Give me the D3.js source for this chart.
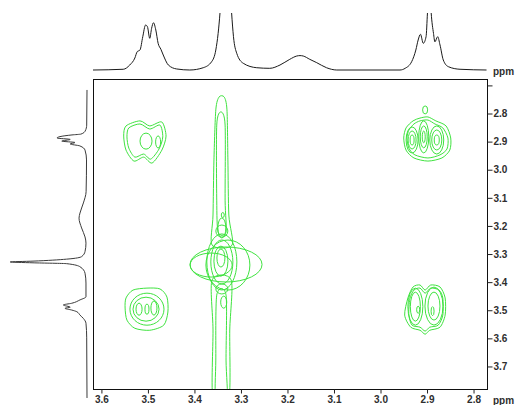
<!DOCTYPE html>
<html lang="en">
  <head>
    <meta charset="utf-8">
    <title>COSY spectrum</title>
    <script src="https://d3js.org/d3.v7.min.js"></script>
    <style>
      html, body {
        margin: 0px;
        padding: 0px;
        background: #fff;
      }
      svg {
        display: block;
        font-family: "Liberation Sans", Arial, sans-serif;
      }
      .axis text {
        font-size: 10px;
        font-weight: bold;
        fill: #2e2e2e;
      }
      .axis line {
        stroke: #222;
      }
      .contour {
        fill: none;
        stroke: #3fe33f;
        stroke-width: 1;
      }
      .trace {
        fill: none;
        stroke-width: 1;
      }
    </style>
  </head>
  <body>
    <div id="chart"></div>
    <script>
      // ticks (ppm)
      var xMajor = [3.6, 3.5, 3.4, 3.3, 3.2, 3.1, 3.0, 2.9, 2.8];
      var yMajor = [2.7, 2.8, 2.9, 3.0, 3.1, 3.2, 3.3, 3.4, 3.5, 3.6, 3.7];
      var yLabelled = [2.8, 2.9, 3.0, 3.1, 3.2, 3.3, 3.4, 3.5, 3.6, 3.7];

      // 1D projection on top: [ppm, intensity]
      var topTrace = [
        [3.617, 0], [3.552, 1.2], [3.538, 8.3], [3.527, 20], [3.522, 30.5], [3.516, 33.3],
        [3.510, 55.5], [3.504, 75], [3.500, 72.2], [3.495, 52.8], [3.491, 69.5], [3.487, 78.8],
        [3.482, 66.7], [3.477, 44.5], [3.471, 34.5], [3.466, 25], [3.455, 8.3], [3.437, 1.7],
        [3.409, 0], [3.380, 3.8], [3.362, 13.8], [3.353, 33.3], [3.348, 61], [3.344, 95],
        [3.331, 300], [3.319, 95], [3.315, 55.5], [3.308, 27.8], [3.294, 11.2], [3.265, 3.8],
        [3.237, 2.8], [3.215, 8.3], [3.194, 17.8], [3.179, 23.3], [3.172, 24], [3.165, 23.3],
        [3.151, 17.8], [3.136, 12.2], [3.115, 3.8], [3.093, 0], [2.957, 0], [2.946, 2.8],
        [2.932, 13.8], [2.923, 33.3], [2.918, 50], [2.913, 59.5], [2.907, 44.5], [2.901, 55.5],
        [2.898, 95], [2.894, 150], [2.890, 95], [2.885, 61], [2.882, 47], [2.876, 55.5],
        [2.871, 41.7], [2.864, 16.7], [2.853, 5.5], [2.828, 1.2], [2.771, 0]
      ];

      // 1D projection on the left: [ppm, intensity]
      var leftTrace = [
        [2.718, 0], [2.843, 0.5], [2.864, 3], [2.875, 10], [2.878, 25], [2.884, 45],
        [2.889, 50], [2.894, 28], [2.900, 42], [2.905, 20], [2.910, 28], [2.917, 12],
        [2.932, 3.3], [2.967, 0.8], [3.080, 1.5], [3.120, 6], [3.156, 11.7], [3.174, 13.3],
        [3.209, 9], [3.241, 3.3], [3.263, 1.7], [3.293, 3.3], [3.311, 9], [3.320, 34],
        [3.327, 90], [3.330, 128], [3.333, 90], [3.336, 34], [3.347, 11.7], [3.370, 3.3],
        [3.405, 1.7], [3.454, 1.7], [3.465, 11.7], [3.477, 25.5], [3.483, 39.5], [3.491, 28],
        [3.495, 36.7], [3.501, 25.5], [3.507, 17], [3.519, 11.7], [3.531, 6], [3.548, 1.7],
        [3.600, 0.5], [3.814, 0]
      ];

      // contour levels drawn as ellipses: [f2 ppm, f1 ppm, half width f2, half width f1]
      var ellipses = [
        // 3.50 / 2.90
        [3.503, 2.900, 0.0129, 0.0285], [3.477, 2.903, 0.0054, 0.0214],
        // 2.90 / 2.90
        [2.903, 2.789, 0.0054, 0.0142],
        [2.931, 2.896, 0.0129, 0.0463], [2.931, 2.896, 0.0086, 0.032], [2.931, 2.896, 0.0043, 0.0178],
        [2.906, 2.885, 0.0108, 0.057], [2.906, 2.885, 0.0075, 0.039], [2.906, 2.885, 0.0032, 0.021],
        [2.878, 2.896, 0.015, 0.05], [2.878, 2.896, 0.0108, 0.0356], [2.878, 2.896, 0.0054, 0.0178],
        // 3.50 / 3.50
        [3.501, 3.498, 0.0366, 0.057], [3.503, 3.498, 0.028, 0.0427],
        [3.518, 3.498, 0.0065, 0.0214], [3.486, 3.494, 0.0065, 0.025], [3.501, 3.498, 0.0043, 0.0178],
        // 2.90 / 3.50
        [2.924, 3.489, 0.0161, 0.0658], [2.924, 3.489, 0.0108, 0.0516], [2.918, 3.500, 0.0032, 0.0125],
        [2.884, 3.487, 0.0194, 0.0676], [2.884, 3.487, 0.0129, 0.0498], [2.887, 3.505, 0.0032, 0.016],
        // 3.33 diagonal peak
        [3.331, 3.339, 0.0774, 0.0623], [3.363, 3.341, 0.0452, 0.0427], [3.327, 3.341, 0.0473, 0.089],
        [3.340, 3.330, 0.0323, 0.0997], [3.340, 3.330, 0.0237, 0.0783], [3.342, 3.327, 0.0151, 0.0534],
        [3.342, 3.316, 0.0086, 0.032], [3.340, 3.220, 0.0129, 0.0214], [3.340, 3.209, 0.0086, 0.0356],
        [3.338, 3.163, 0.0032, 0.0089], [3.340, 3.426, 0.0129, 0.0178], [3.336, 3.473, 0.0065, 0.0214]
      ];

      // irregular outer contours: lists of [f2 ppm, f1 ppm]
      var outlines = [
        [[3.546, 2.846], [3.516, 2.828], [3.495, 2.846], [3.469, 2.832], [3.460, 2.882], [3.469, 2.932],
         [3.490, 2.978], [3.508, 2.957], [3.529, 2.971], [3.546, 2.932], [3.551, 2.882]],
        [[3.540, 2.853], [3.516, 2.839], [3.495, 2.857], [3.473, 2.843], [3.467, 2.885], [3.475, 2.928],
         [3.493, 2.964], [3.508, 2.946], [3.527, 2.957], [3.540, 2.925], [3.544, 2.885]],
        [[2.944, 2.853], [2.929, 2.828], [2.914, 2.818], [2.897, 2.814], [2.880, 2.828], [2.858, 2.846],
         [2.848, 2.889], [2.850, 2.932], [2.867, 2.960], [2.897, 2.971], [2.927, 2.960], [2.944, 2.932],
         [2.949, 2.889]],
        [[2.938, 2.861], [2.927, 2.839], [2.914, 2.828], [2.897, 2.825], [2.882, 2.839], [2.865, 2.853],
         [2.854, 2.889], [2.856, 2.928], [2.871, 2.949], [2.897, 2.960], [2.925, 2.949], [2.938, 2.925],
         [2.942, 2.889]],
        [[3.546, 3.458], [3.531, 3.430], [3.501, 3.423], [3.473, 3.426], [3.458, 3.455], [3.456, 3.508],
         [3.465, 3.555], [3.495, 3.573], [3.527, 3.566], [3.544, 3.537], [3.548, 3.494]],
        [[2.940, 3.458], [2.929, 3.419], [2.914, 3.412], [2.903, 3.430], [2.891, 3.412], [2.871, 3.419],
         [2.860, 3.458], [2.860, 3.519], [2.871, 3.562], [2.893, 3.573], [2.903, 3.587], [2.914, 3.573],
         [2.934, 3.562], [2.947, 3.519]],
        [[2.936, 3.462], [2.927, 3.430], [2.914, 3.423], [2.903, 3.441], [2.891, 3.423], [2.873, 3.430],
         [2.865, 3.458], [2.865, 3.519], [2.875, 3.555], [2.893, 3.562], [2.903, 3.576], [2.914, 3.562],
         [2.931, 3.555], [2.938, 3.519]],
        // vertical ridge through 3.33
        [[3.346, 2.743], [3.335, 2.743], [3.329, 2.789], [3.327, 2.967], [3.325, 3.163], [3.318, 3.270],
         [3.361, 3.270], [3.359, 3.163], [3.357, 2.967], [3.353, 2.789]],
        [[3.342, 2.796], [3.333, 2.843], [3.333, 3.110], [3.331, 3.224], [3.348, 3.224], [3.351, 3.110],
         [3.351, 2.843]],
        [[3.361, 3.394], [3.320, 3.394], [3.323, 3.572], [3.325, 3.821], [3.359, 3.821], [3.359, 3.572]],
        [[3.351, 3.448], [3.331, 3.448], [3.331, 3.679], [3.329, 3.821], [3.353, 3.821], [3.353, 3.679]]
      ];

      var width = 519, height = 405;
      var frame = {left: 93, right: 487, top: 79, bottom: 389};

      var x = d3.scaleLinear().domain([3.617, 2.770]).range([frame.left, frame.right]);
      var y = d3.scaleLinear().domain([2.679, 3.782]).range([frame.top, frame.bottom]);
      var topI = d3.scaleLinear().domain([0, 100]).range([70, 10]);
      var leftI = d3.scaleLinear().domain([0, 100]).range([87, 27]);

      var svg = d3.select("#chart").append("svg")
          .attr("width", width)
          .attr("height", height);

      var defs = svg.append("defs");
      defs.append("clipPath").attr("id", "plot-clip")
        .append("rect")
          .attr("x", frame.left).attr("y", frame.top)
          .attr("width", frame.right - frame.left)
          .attr("height", frame.bottom - frame.top);
      defs.append("clipPath").attr("id", "top-clip")
        .append("rect")
          .attr("x", 0).attr("y", 13)
          .attr("width", width).attr("height", 66);

      // projections
      var topLine = d3.line()
          .x(function(d) { return x(d[0]); })
          .y(function(d) { return topI(d[1]); })
          .curve(d3.curveMonotoneX);
      svg.append("path")
          .datum(topTrace)
          .attr("class", "trace")
          .attr("clip-path", "url(#top-clip)")
          .attr("stroke", "#1a1a1a")
          .attr("d", topLine);

      var leftLine = d3.line()
          .x(function(d) { return leftI(d[1]); })
          .y(function(d) { return y(d[0]); })
          .curve(d3.curveMonotoneY);
      svg.append("path")
          .datum(leftTrace)
          .attr("class", "trace")
          .attr("stroke", "#3a3a3a")
          .attr("d", leftLine);

      // contours
      var plot = svg.append("g").attr("clip-path", "url(#plot-clip)");

      plot.selectAll("ellipse.contour")
          .data(ellipses)
        .enter().append("ellipse")
          .attr("class", "contour")
          .attr("cx", function(d) { return x(d[0]); })
          .attr("cy", function(d) { return y(d[1]); })
          .attr("rx", function(d) { return Math.abs(x(d[0] + d[2]) - x(d[0])); })
          .attr("ry", function(d) { return Math.abs(y(d[1] + d[3]) - y(d[1])); });

      var outline = d3.line()
          .x(function(d) { return x(d[0]); })
          .y(function(d) { return y(d[1]); })
          .curve(d3.curveCardinalClosed.tension(0.2));

      plot.selectAll("path.contour")
          .data(outlines)
        .enter().append("path")
          .attr("class", "contour")
          .attr("d", outline);

      // frame
      svg.append("rect")
          .attr("x", frame.left + 0.5).attr("y", frame.top + 0.5)
          .attr("width", frame.right - frame.left)
          .attr("height", frame.bottom - frame.top)
          .attr("fill", "none")
          .attr("stroke", "#111");

      // axes
      var xMinor = d3.range(361, 277, -1).map(function(v) { return v / 100; });
      var yMinor = d3.range(269, 379, 1).map(function(v) { return v / 100; });

      var bx = svg.append("g")
          .attr("class", "axis")
          .attr("transform", "translate(0.5," + (frame.bottom + 0.5) + ")");
      bx.call(d3.axisBottom(x).tickValues(xMinor).tickSize(2).tickFormat(""));
      bx.call(d3.axisBottom(x).tickValues(xMajor).tickSize(4).tickPadding(2).tickFormat(d3.format(".1f")));
      bx.selectAll(".domain").remove();

      var ry = svg.append("g")
          .attr("class", "axis")
          .attr("transform", "translate(" + (frame.right + 0.5) + ",0.5)");
      ry.call(d3.axisRight(y).tickValues(yMinor).tickSize(2).tickFormat(""));
      ry.call(d3.axisRight(y).tickValues(yMajor).tickSize(5).tickPadding(1)
          .tickFormat(function(d) { return yLabelled.indexOf(d) >= 0 ? d3.format(".1f")(d) : ""; }));
      ry.selectAll(".domain").remove();

      svg.selectAll("text").attr("font-family", "Liberation Sans, Arial, sans-serif");

      svg.append("text")
          .attr("x", 493).attr("y", 404)
          .attr("font-size", "10px").attr("font-weight", "bold").attr("fill", "#2e2e2e")
          .attr("font-family", "Liberation Sans, Arial, sans-serif")
          .text("ppm");
      svg.append("text")
          .attr("x", 493).attr("y", 75)
          .attr("font-size", "10px").attr("font-weight", "bold").attr("fill", "#2e2e2e")
          .attr("font-family", "Liberation Sans, Arial, sans-serif")
          .text("ppm");
    </script>
  </body>
</html>
